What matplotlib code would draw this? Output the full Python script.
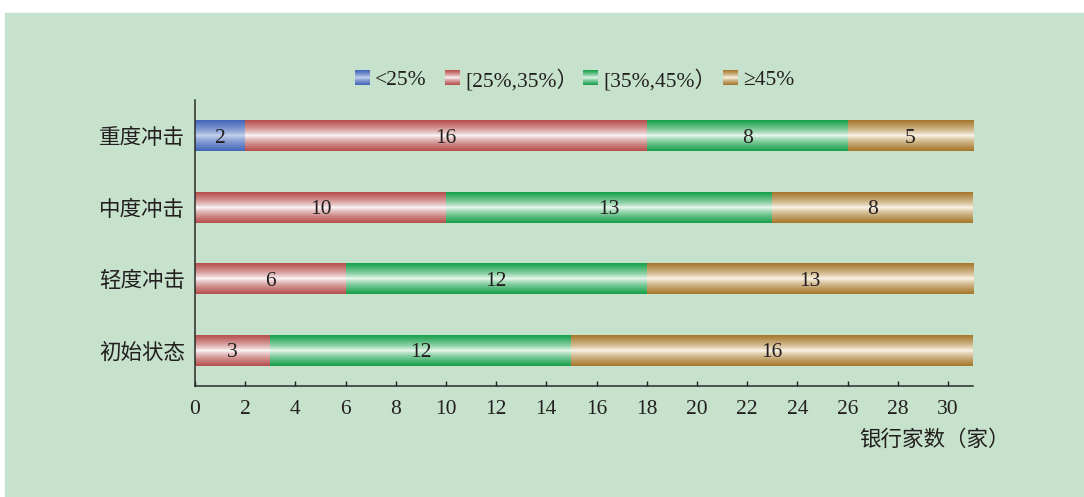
import numpy as np
import matplotlib.pyplot as plt
from matplotlib.colors import to_rgb
from matplotlib.patches import Rectangle

plt.rcParams['font.family'] = ['Liberation Serif', 'Noto Sans CJK SC']

# categories (top to bottom) and series
states = ['重度冲击', '中度冲击', '轻度冲击', '初始状态']
groups = ['<25%', '[25%,35%）', '[35%,45%）', '≥45%']
lt25 = [2, 0, 0, 0]
r25_35 = [16, 10, 6, 3]
r35_45 = [8, 13, 12, 12]
ge45 = [5, 8, 13, 16]
series = [lt25, r25_35, r35_45, ge45]

# (edge colour, middle colour) of the shaded bars
shades = [('#4466b8', '#ccd8f0'),
          ('#b64f4d', '#ffffff'),
          ('#17a04b', '#f4fcf6'),
          ('#a6782c', '#fffbf2')]

W, H = 1084, 497
bg = '#c6e2cc'
txt = '#231f20'


def grad(edge, mid, n=64):
    t = np.abs(np.linspace(-1, 1, n)) ** 0.7
    e = np.array(to_rgb(edge))
    m = np.array(to_rgb(mid))
    return (m + (e - m) * t[:, None])[:, None, :]


fig = plt.figure(figsize=(W / 100, H / 100), dpi=100, facecolor='white')
fig.patches.append(Rectangle((5 / W, 0), 1 - 5 / W, 1 - 13 / H,
                             transform=fig.transFigure, color=bg, zorder=-10))

ax = fig.add_axes([195 / W, 1 - 386 / H, (973 - 195) / W, (386 - 100) / H])
ax.set_facecolor(bg)

bar_h = 0.43
ypos = np.arange(len(states))
left = np.zeros(len(states))
for vals, (edge, mid) in zip(series, shades):
    img = grad(edge, mid)
    for i, v in enumerate(vals):
        if v == 0:
            continue
        ax.imshow(img, extent=(left[i], left[i] + v, ypos[i] + bar_h / 2, ypos[i] - bar_h / 2),
                  aspect='auto', interpolation='bilinear', zorder=2)
        ax.text(left[i] + v / 2, ypos[i], str(v), ha='center', va='center_baseline',
                fontsize=15.5, color=txt, zorder=3)
    left += np.array(vals)

ax.set_xlim(0, 31)
ax.set_ylim(3.5, -0.5)
ax.set_xticks(range(0, 31, 2))
ax.set_yticks(ypos)
ax.set_yticklabels(states, fontsize=15.5, color=txt, family=['Noto Sans CJK SC'])
ax.tick_params(axis='y', length=0, pad=7)
ax.tick_params(axis='x', direction='in', length=3.5, width=1, labelsize=15.5,
               colors=txt, pad=10)
for s in ['top', 'right']:
    ax.spines[s].set_visible(False)
for s in ['left', 'bottom']:
    ax.spines[s].set_linewidth(1.1)
    ax.spines[s].set_color('#2b2b2b')

fig.text(1010 / W, 1 - 440 / H, '银行家数（家）', ha='right', va='center',
         fontsize=15.5, color=txt, family=['Noto Sans CJK SC'])

# legend drawn by hand so the swatches keep the shading
leg_x = [355, 445, 583, 723]
for x0, name, (edge, mid) in zip(leg_x, groups, shades):
    lax = fig.add_axes([x0 / W, 1 - 85 / H, 15 / W, 15 / H])
    lax.imshow(grad(edge, mid, 32), aspect='auto', interpolation='bilinear')
    lax.axis('off')
    fig.text((x0 + 20) / W, 1 - 78 / H, name, ha='left', va='center_baseline',
             fontsize=15.5, color=txt)

plt.savefig('out.png', dpi=100, facecolor=fig.get_facecolor())
